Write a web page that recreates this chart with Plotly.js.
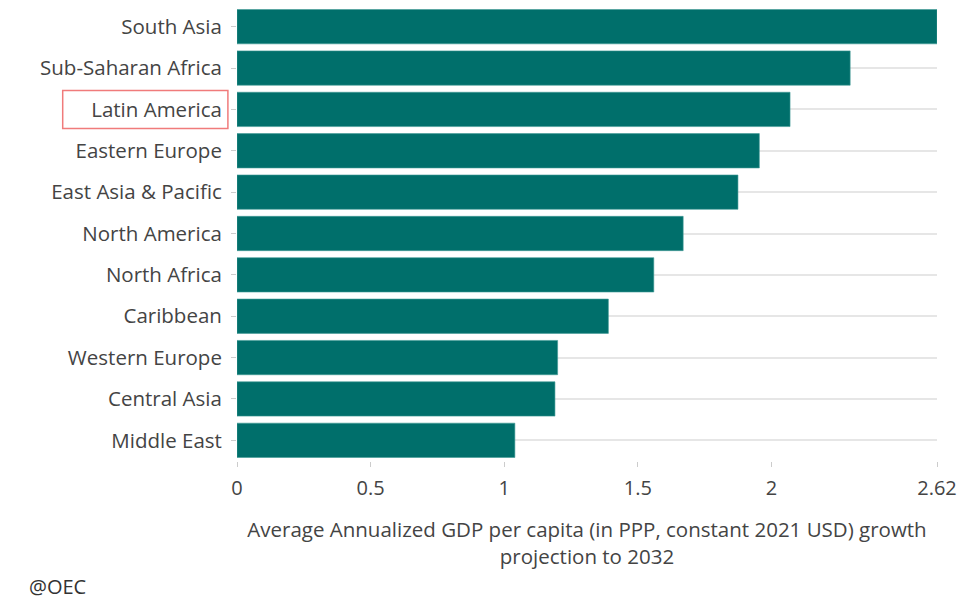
<!DOCTYPE html>
<html>
<head>
<meta charset="utf-8">
<script src="https://cdn.plot.ly/plotly-3.0.1.min.js"></script>
<style>
  body { margin: 0; background: #fff; }
  #myDiv { width: 978px; height: 612px; }
</style>
</head>
<body>
<div id="myDiv"></div>
<script>
// Regions, bottom to top as plotly draws them
var regions = ['Middle East', 'Central Asia', 'Western Europe', 'Caribbean', 'North Africa',
  'North America', 'East Asia & Pacific', 'Eastern Europe', 'Latin America',
  'Sub-Saharan Africa', 'South Asia'];
var growth = [1.04, 1.19, 1.2, 1.39, 1.56, 1.67, 1.875, 1.955, 2.07, 2.295, 2.62];
var tickVals = [0, 0.5, 1, 1.5, 2, 2.62];
var tickText = ['0', '0.5', '1', '1.5', '2', '2.62'];

var trace = {
  type: 'bar',
  orientation: 'h',
  y: regions,
  x: growth,
  marker: {color: '#006f6b', line: {color: '#3f9a95', width: 0.6}},
  hoverinfo: 'x+y'
};

var hlIndex = regions.indexOf('Latin America');

var layout = {
  width: 978,
  height: 612,
  margin: {l: 237, r: 41, t: 6, b: 151},
  paper_bgcolor: '#fff',
  plot_bgcolor: '#fff',
  font: {family: 'Open Sans, sans-serif', size: 20, color: '#444'},
  showlegend: false,
  bargap: 0.17,
  xaxis: {
    range: [0, 2.62],
    tickvals: tickVals,
    ticktext: tickText,
    showgrid: false,
    zeroline: false,
    ticks: 'outside',
    ticklen: 5,
    tickcolor: '#ccc',
    ticklabelstandoff: 4,
    tickfont: {size: 20},
    title: {
      text: 'Average Annualized GDP per capita (in PPP, constant 2021 USD) growth<br>projection to 2032',
      font: {size: 20.5},
      standoff: 22
    }
  },
  yaxis: {
    showgrid: true,
    gridcolor: '#e6e6e6',
    gridwidth: 2,
    ticks: 'outside',
    ticklen: 5,
    tickcolor: '#ccc',
    ticklabelstandoff: 5,
    tickfont: {size: 20.5}
  },
  shapes: [{
    type: 'rect',
    xref: 'paper', yref: 'y',
    x0: -0.249, x1: -0.013,
    y0: hlIndex - 0.46, y1: hlIndex + 0.46,
    line: {color: '#f07b7b', width: 1.5},
    fillcolor: 'rgba(0,0,0,0)'
  }],
  annotations: [{
    text: '@OEC',
    xref: 'paper', yref: 'paper',
    x: -0.3, y: -0.275,
    xanchor: 'left', yanchor: 'middle',
    showarrow: false,
    font: {size: 20, color: '#333'}
  }]
};

Plotly.newPlot('myDiv', [trace], layout, {displayModeBar: false});
</script>
</body>
</html>
